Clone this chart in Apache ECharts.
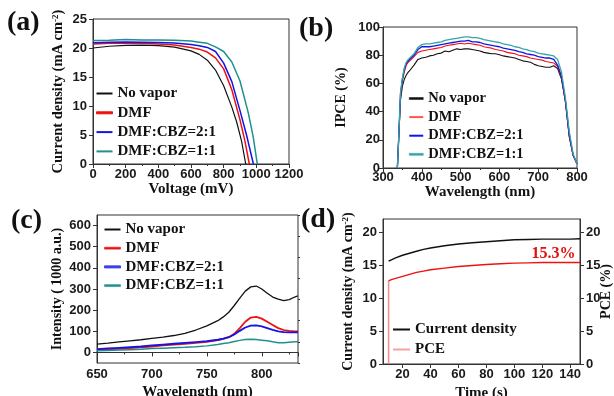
<!DOCTYPE html>
<html><head><meta charset="utf-8">
<script src="https://cdn.jsdelivr.net/npm/echarts@6/dist/echarts.min.js"></script>
<style>html,body{margin:0;padding:0;background:#fff}#c{width:614px;height:396px}</style>
</head><body><div id="c"></div>
<script>
// ---------- Panel (a): J-V curves ----------
const vNoVapor = [0,100,200,300,400,500,600,650,700,750,800,850,880,910,935];
const jNoVapor = [20.0,20.3,20.45,20.5,20.4,20.15,19.5,18.9,17.9,16.2,13.5,9.8,7.2,3.9,0];
const vDMF = [0,100,200,300,400,500,600,650,700,750,800,850,900,930,957];
const jDMF = [20.7,20.8,20.85,20.8,20.7,20.5,20.1,19.8,19.3,18.3,16.4,12.8,7.6,4.0,0];
const vCBZ21 = [0,100,200,300,400,500,600,650,700,750,800,850,900,940,982];
const jCBZ21 = [20.9,21.0,21.05,21.0,20.95,20.85,20.6,20.4,20.1,19.4,17.4,14.2,9.2,5.0,0];
const vCBZ11 = [0,100,200,300,400,500,600,650,700,750,800,850,900,950,980,1006];
const jCBZ11 = [21.3,21.35,21.45,21.4,21.4,21.35,21.2,21.0,20.8,20.2,19.4,17.6,14.3,8.9,4.8,0];

// ---------- Panel (b): IPCE ----------
const lamB = [337,340,345,350,355,360,365,370,380,390,400,410,420,430,440,450,460,470,480,490,500,510,520,530,540,550,560,570,580,590,600,610,620,630,640,650,660,670,680,690,700,710,720,730,740,750,760,770,780,790,800];
const ipceNoVapor = [0,18,48,58,63,66,68,69.5,73,77,78,78.5,79.5,80,81,81.5,83,82.5,83.5,84.5,84,84.5,84.5,84,83.5,83,82,81.5,81,81,80.3,79.5,79,78.5,78,77,76,75.5,75,73.5,72.5,72,71.5,71.5,72.5,70.5,63,48,22,9,3];
const ipceDMF = [0,18,50,62,68,73,75,76,79,82,83,83.5,84,84.5,85,85.5,86.5,87,87.5,88,88.5,88,88.5,88,87.5,87,86,85.5,85,84,83.5,83,82,81.5,81,80,79.5,79,78,77.5,77,76.5,75.5,75,74.5,72,64,47,23,9,3];
const ipceCBZ21 = [0,18,52,63,70,74,76,77,80,84,86,86,86,86.5,87,87.5,88,88.5,89,89.5,90,90,90.5,89.5,89.5,89,88,87.5,87,86.5,86,85,84.5,84,83.5,82.5,82,81,80.5,80,79,78.5,78,78,77,73,65,48,24,9,3];
const ipceCBZ11 = [0,18,53,64,71,75,77,78,81,85.5,87.5,88,88,88.5,89,89.5,90.5,91,91.5,92,92.5,93,93,92.5,92.5,92,91,90.5,90,89.5,89,88,87.5,87,86,85.5,84.5,84,83,82.5,81.5,81,80.5,80,79.5,77,68,50,26,10,3];

// ---------- Panel (c): PL intensity ----------
const lamC = [650,660,670,680,690,700,710,720,730,740,750,760,765,770,775,780,785,790,795,800,805,810,815,820,825,830,833];
const plNoVapor = [39,44,50,55,60,66,72,80,90,106,126,150,168,190,222,257,290,310,314,300,280,262,252,245,250,262,268];
const plDMF = [13,15,17,20,24,28,33,37,41,45,50,58,64,72,88,115,145,165,168,160,145,130,115,106,102,100,100];
const plCBZ21 = [16,19,22,25,28,33,37,41,45,49,53,60,65,72,85,102,118,127,128,123,115,107,100,96,95,95,95];
const plCBZ11 = [8,9,11,13,15,18,20,22,24,27,31,38,42,46,52,57,61,62,61,58,55,50,46,46,48,50,50];

// ---------- Panel (d): stabilized output ----------
const tD = [10,12,15,20,25,30,35,40,50,60,70,80,90,100,110,120,130,140,147];
const jscD = [15.6,15.8,16.1,16.5,16.8,17.1,17.4,17.6,17.95,18.2,18.4,18.55,18.7,18.85,18.9,18.95,18.95,18.95,19.0];
const pceD = [12.6,12.8,13.0,13.3,13.6,13.9,14.1,14.3,14.55,14.8,14.95,15.1,15.2,15.3,15.35,15.4,15.4,15.4,15.4];
const pceStartT = [10,10];
const pceStartV = [0,12.6];
const pceFinal = '15.3%';

// ticks
const ticksC_Y = [0,100,200,300,400,500,600];
const ticksC_Yminor = [-50,50,150,250,350,450,550,650];
const ticksD_X = [20,40,60,80,100,120,140];
const ticksD_Y = [0,5,10,15,20];

const serif = "'Liberation Serif','Times New Roman',serif";
const sans = "'Liberation Sans',Arial,sans-serif";
const C_BLACK = '#111', C_RED = '#ee1111', C_BLUE = '#1414e6', C_TEAL = '#1f8f8f', C_TEAL_B = '#35a5a5';

const pairs = (xs, ys) => xs.map((x, i) => [x, ys[i]]);

const labelStyle = (margin) => ({fontFamily: sans, fontWeight: 'bold', fontSize: 13, color: '#1a1a1a', margin, formatter: v => String(v)});
const nameStyle = (size) => ({fontFamily: serif, fontWeight: 'bold', fontSize: size, color: '#111',
  rich: {sup: {fontFamily: serif, fontWeight: 'bold', fontSize: 9, color: '#111', verticalAlign: 'top', padding: [0,0,6,0]}}});
const lineAx = {show: true, lineStyle: {color: '#333', width: 1}};

function axis(o) {
  return Object.assign({
    type: 'value', splitLine: {show: false}, axisLine: lineAx,
    axisTick: {show: true, inside: false, length: 4, lineStyle: {color: '#333'}},
    nameLocation: 'middle'
  }, o);
}

const xAxis = [
  axis({gridIndex: 0, min: 0, max: 1200, interval: 200, name: 'Voltage (mV)', nameGap: 15, nameTextStyle: nameStyle(15),
    axisLabel: labelStyle(4), minorTick: {show: true, splitNumber: 2, length: 2, lineStyle: {color: '#333'}}}),
  axis({gridIndex: 1, min: 300, max: 800, interval: 100, name: 'Wavelength (nm)', nameGap: 17, nameTextStyle: nameStyle(15),
    axisLabel: labelStyle(3), minorTick: {show: true, splitNumber: 2, length: 2, lineStyle: {color: '#333'}}}),
  axis({gridIndex: 2, min: 650, max: 833, interval: 50, name: 'Wavelength (nm)', nameGap: 22, nameTextStyle: nameStyle(15),
    axisLabel: Object.assign(labelStyle(5), {formatter: v => (v % 50 === 0 ? String(v) : '')}),
    minorTick: {show: true, splitNumber: 2, length: 2, lineStyle: {color: '#333'}}}),
  axis({gridIndex: 3, min: 6, max: 147, name: 'Time (s)', nameGap: 22, nameTextStyle: nameStyle(15),
    axisLabel: Object.assign(labelStyle(4), {customValues: ticksD_X}),
    axisTick: {show: true, length: 4, lineStyle: {color: '#333'}, customValues: ticksD_X}})
];

const yAxis = [
  axis({gridIndex: 0, min: 0, max: 25, interval: 5, name: 'Current density (mA cm{sup|-2})', nameGap: 27, nameTextStyle: nameStyle(14.5),
    axisLabel: labelStyle(6)}),
  axis({gridIndex: 1, min: 0, max: 100, interval: 20, name: 'IPCE (%)', nameGap: 35, nameTextStyle: nameStyle(14),
    axisLabel: labelStyle(3)}),
  axis({gridIndex: 2, min: -50, max: 650, name: 'Intensity ( 1000 a.u.)', nameGap: 33, nameTextStyle: nameStyle(14),
    axisLabel: Object.assign(labelStyle(6), {customValues: ticksC_Y}),
    axisTick: {show: true, length: 4, lineStyle: {color: '#333'}, customValues: ticksC_Y}}),
  axis({gridIndex: 2, min: -50, max: 650, axisLine: {show: false}, axisLabel: {show: false},
    axisTick: {show: true, length: 2, lineStyle: {color: '#333'}, customValues: ticksC_Yminor}}),
  axis({gridIndex: 3, min: 0, max: 22, name: 'Current density (mA cm{sup|-2})', nameGap: 27, nameTextStyle: nameStyle(14),
    axisLabel: Object.assign(labelStyle(6), {customValues: ticksD_Y}),
    axisTick: {show: true, length: 4, lineStyle: {color: '#333'}, customValues: ticksD_Y}}),
  axis({gridIndex: 3, min: 0, max: 22, position: 'right', name: 'PCE (%)', nameGap: 19, nameMoveOverlap: false, nameRotate: 90, nameTextStyle: nameStyle(14),
    axisLabel: Object.assign(labelStyle(6), {customValues: ticksD_Y}),
    axisTick: {show: true, length: 4, lineStyle: {color: '#333'}, customValues: ticksD_Y}})
];

function line(name, xi, yi, data, color, width) {
  return {type: 'line', name, xAxisIndex: xi, yAxisIndex: yi, data, symbol: 'none', smooth: false,
    lineStyle: {color, width}, itemStyle: {color}, animation: false, z: 3};
}

const series = [
  line('No vapor', 0, 0, pairs(vNoVapor, jNoVapor), C_BLACK, 1.2),
  line('DMF', 0, 0, pairs(vDMF, jDMF), C_RED, 1.5),
  line('DMF:CBZ=2:1', 0, 0, pairs(vCBZ21, jCBZ21), C_BLUE, 1.5),
  line('DMF:CBZ=1:1', 0, 0, pairs(vCBZ11, jCBZ11), C_TEAL, 1.5),

  line('No vapor', 1, 1, pairs(lamB, ipceNoVapor), C_BLACK, 1.1),
  line('DMF', 1, 1, pairs(lamB, ipceDMF), C_RED, 1.1),
  line('DMF:CBZ=2:1', 1, 1, pairs(lamB, ipceCBZ21), C_BLUE, 1.3),
  line('DMF:CBZ=1:1', 1, 1, pairs(lamB, ipceCBZ11), C_TEAL_B, 1.3),

  line('No vapor', 2, 2, pairs(lamC, plNoVapor), C_BLACK, 1.3),
  line('DMF', 2, 2, pairs(lamC, plDMF), C_RED, 1.8),
  line('DMF:CBZ=2:1', 2, 2, pairs(lamC, plCBZ21), C_BLUE, 1.8),
  line('DMF:CBZ=1:1', 2, 2, pairs(lamC, plCBZ11), C_TEAL, 1.5),

  line('PCE', 3, 5, pairs(pceStartT, pceStartV), '#f48a8a', 1.5),
  line('Current density', 3, 4, pairs(tD, jscD), C_BLACK, 1.4),
  Object.assign(line('PCE', 3, 5, pairs(tD, pceD), C_RED, 1.4), {
    markPoint: {symbol: 'circle', symbolSize: 0, silent: true, animation: false,
      data: [{coord: [128, 16.7], value: pceFinal}],
      label: {show: true, position: 'inside', formatter: pceFinal, color: '#e01010', fontFamily: serif, fontWeight: 'bold', fontSize: 16}}
  })
];

function legend(left, top, gap, size, items, w) {
  return {orient: 'vertical', left, top, padding: 0, itemGap: gap, itemWidth: w, itemHeight: 2, icon: 'rect',
    textStyle: {fontFamily: serif, fontWeight: 'bold', fontSize: size, color: '#111', lineHeight: size},
    data: items, selectedMode: false};
}
const mk = (name, color, width) => ({name, itemStyle: {color, borderColor: color, borderWidth: Math.max(0, width - 2)}});

const option = {
  backgroundColor: '#fff',
  animation: false,
  title: [
    {text: '(a)', left: 7, top: 9},
    {text: '(b)', left: 299, top: 15},
    {text: '(c)', left: 11, top: 207},
    {text: '(d)', left: 301, top: 206}
  ].map(t => Object.assign(t, {padding: 0, textStyle: {fontFamily: serif, fontWeight: 'bold', fontSize: 28, color: '#111'}})),
  grid: [
    {left: 93, top: 19, width: 196, height: 145},
    {left: 383, top: 27, width: 194, height: 141},
    {left: 97, top: 215, width: 201, height: 148},
    {left: 383, top: 219, width: 197, height: 145}
  ].map(g => Object.assign(g, {show: true, borderColor: '#333', borderWidth: 1, backgroundColor: 'transparent',
    containLabel: false, outerBoundsMode: 'none'})),
  xAxis, yAxis, series,
  legend: [
    legend(96, 86, 4.3, 15, [mk('No vapor', C_BLACK, 1.5), mk('DMF', C_RED, 3), mk('DMF:CBZ=2:1', C_BLUE, 1.5), mk('DMF:CBZ=1:1', C_TEAL, 1.5)], 16),
    legend(409, 91, 3.6, 14.5, [mk('No vapor', C_BLACK, 2.5), mk('DMF', '#f55', 1), mk('DMF:CBZ=2:1', C_BLUE, 2), mk('DMF:CBZ=1:1', C_TEAL_B, 2.5)], 14),
    legend(104, 222, 3.7, 15, [mk('No vapor', C_BLACK, 1.2), mk('DMF', C_RED, 2.5), mk('DMF:CBZ=2:1', '#3b3bf0', 3), mk('DMF:CBZ=1:1', C_TEAL, 2.5)], 16),
    legend(393, 322, 5, 15, [mk('Current density', C_BLACK, 1.5), mk('PCE', '#f8a0a0', 2)], 17)
  ]
};

const chart = echarts.init(document.getElementById('c'), null, {renderer: 'canvas'});
chart.setOption(option);
</script></body></html>
